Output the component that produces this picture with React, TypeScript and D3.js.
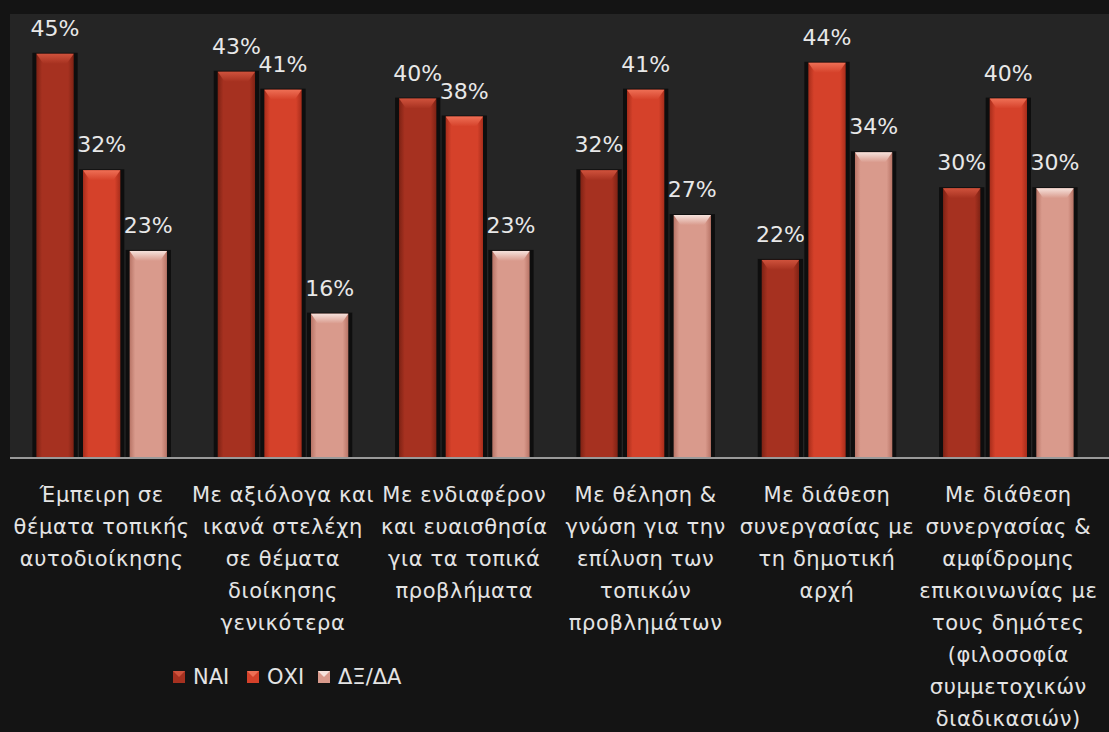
import * as d3 from "d3";

const categories = [
  ["Έμπειρη σε", "θέματα τοπικής", "αυτοδιοίκησης"],
  ["Με αξιόλογα και", "ικανά στελέχη", "σε θέματα", "διοίκησης", "γενικότερα"],
  ["Με ενδιαφέρον", "και ευαισθησία", "για τα τοπικά", "προβλήματα"],
  ["Με θέληση &", "γνώση για την", "επίλυση των", "τοπικών", "προβλημάτων"],
  ["Με διάθεση", "συνεργασίας με", "τη δημοτική", "αρχή"],
  [
    "Με διάθεση",
    "συνεργασίας &",
    "αμφίδρομης",
    "επικοινωνίας με",
    "τους δημότες",
    "(φιλοσοφία",
    "συμμετοχικών",
    "διαδικασιών)",
  ],
];
const seriesNames = ["ΝΑΙ", "ΟΧΙ", "ΔΞ/ΔΑ"];
const naiValues = [45, 43, 40, 32, 22, 30];
const oxiValues = [32, 41, 38, 41, 44, 40];
const dxValues = [23, 16, 23, 27, 34, 30];

const palette = [
  { body: "#a63120", edge: "#7e2214", top: "#cf523c" },
  { body: "#d5412a", edge: "#a82d1b", top: "#ee6f55" },
  { body: "#d99a8c", edge: "#b87466", top: "#f6e2dc" },
];

const W = 1109;
const H = 732;
const baseY = 457;
const font = "'DejaVu Sans', 'Noto Sans', sans-serif";

export default function App() {
  const keys = categories.map((_, i) => String(i));
  const series = [naiValues, oxiValues, dxValues];

  const x0 = d3
    .scaleBand<string>()
    .domain(keys)
    .range([11, 1099])
    .paddingInner(0.28)
    .paddingOuter(0.14);
  const x1 = d3
    .scaleBand<string>()
    .domain(seriesNames)
    .range([0, x0.bandwidth()])
    .paddingInner(0.2)
    .paddingOuter(0);
  const y = d3.scaleLinear().domain([0, 50]).range([baseY, 9]);

  const bw = x1.bandwidth();

  return (
    <svg
      width={W}
      height={H}
      style={{ position: "absolute", left: 0, top: 0, background: "#141414" }}
    >
      <defs>
        {palette.map((p, i) => (
          <linearGradient id={"g" + i} key={i} x1="0" x2="1" y1="0" y2="0">
            <stop offset="0" stopColor={p.edge} />
            <stop offset="0.15" stopColor={p.body} />
            <stop offset="0.85" stopColor={p.body} />
            <stop offset="1" stopColor={p.edge} />
          </linearGradient>
        ))}
        {palette.map((p, i) => (
          <linearGradient id={"t" + i} key={i} x1="0" x2="0" y1="0" y2="1">
            <stop offset="0" stopColor={p.top} />
            <stop offset="1" stopColor={p.body} />
          </linearGradient>
        ))}
      </defs>
      <rect x={0} y={0} width={W} height={H} fill="#141414" />
      <rect x={10} y={14} width={W - 10} height={baseY - 14} fill="#252525" />

      {keys.map((k, ci) => (
        <g key={k} transform={`translate(${x0(k)},0)`}>
          {seriesNames.map((s, si) => {
            const v = series[si][ci];
            const bx = x1(s)!;
            const by = y(v);
            const bh = y(0) - by;
            return (
              <g key={s}>
                <rect
                  x={bx - 4}
                  y={by - 1}
                  width={bw + 8}
                  height={bh + 1}
                  fill="#0a0a0a"
                  opacity={0.85}
                />
                <rect x={bx} y={by} width={bw} height={bh} fill={`url(#g${si})`} />
                <path
                  d={`M${bx},${by}H${bx + bw}L${bx + bw - 7},${by + 10}H${bx + 7}Z`}
                  fill={`url(#t${si})`}
                />
                <text
                  x={bx + bw / 2}
                  y={by - 18}
                  textAnchor="middle"
                  fill="#e8e8e8"
                  fontFamily={font}
                  fontSize={22}
                >
                  {d3.format(".0f")(v) + "%"}
                </text>
              </g>
            );
          })}
        </g>
      ))}

      <line x1={10} x2={W} y1={baseY + 1} y2={baseY + 1} stroke="#9a9a9a" strokeWidth={2} />

      {categories.map((lines, ci) => (
        <text
          key={ci}
          x={x0(String(ci))! + x0.bandwidth() / 2}
          y={495}
          textAnchor="middle"
          fill="#e4e4e4"
          fontFamily={font}
          fontSize={21}
          letterSpacing={0.6}
        >
          {lines.map((ln, li) => (
            <tspan key={li} x={x0(String(ci))! + x0.bandwidth() / 2} y={495 + li * 32} dy="0.35em">
              {ln}
            </tspan>
          ))}
        </text>
      ))}

      <g fontFamily={font} fontSize={21} fill="#e4e4e4">
        {seriesNames.map((s, i) => {
          const lx = [173, 247, 318][i];
          return (
            <g key={s}>
              <rect x={lx} y={671} width={12} height={12} fill={palette[i].body} />
              <path d={`M${lx},671H${lx + 12}L${lx + 6},677Z`} fill={palette[i].top} />
              <text x={lx + 20} y={677} dy="0.35em">
                {s}
              </text>
            </g>
          );
        })}
      </g>
    </svg>
  );
}
